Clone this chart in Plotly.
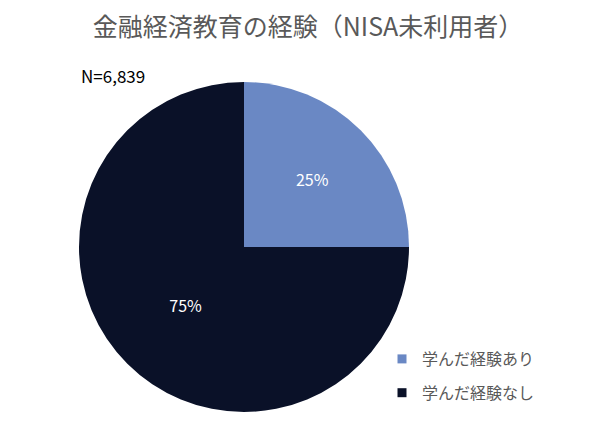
import plotly.graph_objects as go

# 金融経済教育の経験（NISA未利用者）
labels = ['学んだ経験あり', '学んだ経験なし']
values = [25, 75]
colors = ['#6a88c4', '#0a1128']
n_text = 'N=6,839'

W, H = 600, 438
off = 8  # page body margin
cx, cy, r = 244 - off, 247 - off, 165

fig = go.Figure()
fig.add_trace(go.Pie(
    labels=labels,
    values=values,
    sort=False,
    direction='clockwise',
    rotation=0,
    marker=dict(colors=colors, line=dict(width=0)),
    texttemplate='%{value}%',
    textposition='inside',
    insidetextfont=dict(color='white', size=16, family='Noto Sans CJK JP'),
    hoverinfo='label+percent',
    showlegend=False,
    domain=dict(x=[(cx - r) / W, (cx + r) / W], y=[(H - cy - r) / H, (H - cy + r) / H]),
))

# legend entries (one per slice, so the gap between them can be set)
for i, (lab, col) in enumerate(zip(labels, colors)):
    fig.add_trace(go.Scatter(
        x=[None], y=[None], mode='markers', name=lab, legendgroup=f'g{i}',
        marker=dict(symbol='square', size=9, color=col),
    ))

fig.update_layout(
    width=W, height=H,
    margin=dict(l=0, r=0, t=0, b=0),
    paper_bgcolor='white',
    plot_bgcolor='white',
    xaxis=dict(visible=False),
    yaxis=dict(visible=False),
    font=dict(family='Noto Sans CJK JP', color='#595959'),
    title=dict(text='金融経済教育の経験（NISA未利用者）', x=0.5, xanchor='center',
               y=1 - (27 - off) / H, yanchor='middle', font=dict(size=25, color='#595959')),
    legend=dict(x=(402 - off - 20) / W, y=1 - (342 - off) / H, xanchor='left', yanchor='top',
                font=dict(size=16, color='#595959'), tracegroupgap=10,
                itemwidth=30),
    annotations=[dict(text=n_text, x=(79 - off) / W, y=1 - (75 - off) / H, xref='paper', yref='paper',
                      xanchor='left', yanchor='middle', showarrow=False,
                      font=dict(size=17, color='#000000'))],
)

fig.write_html('out.html')
